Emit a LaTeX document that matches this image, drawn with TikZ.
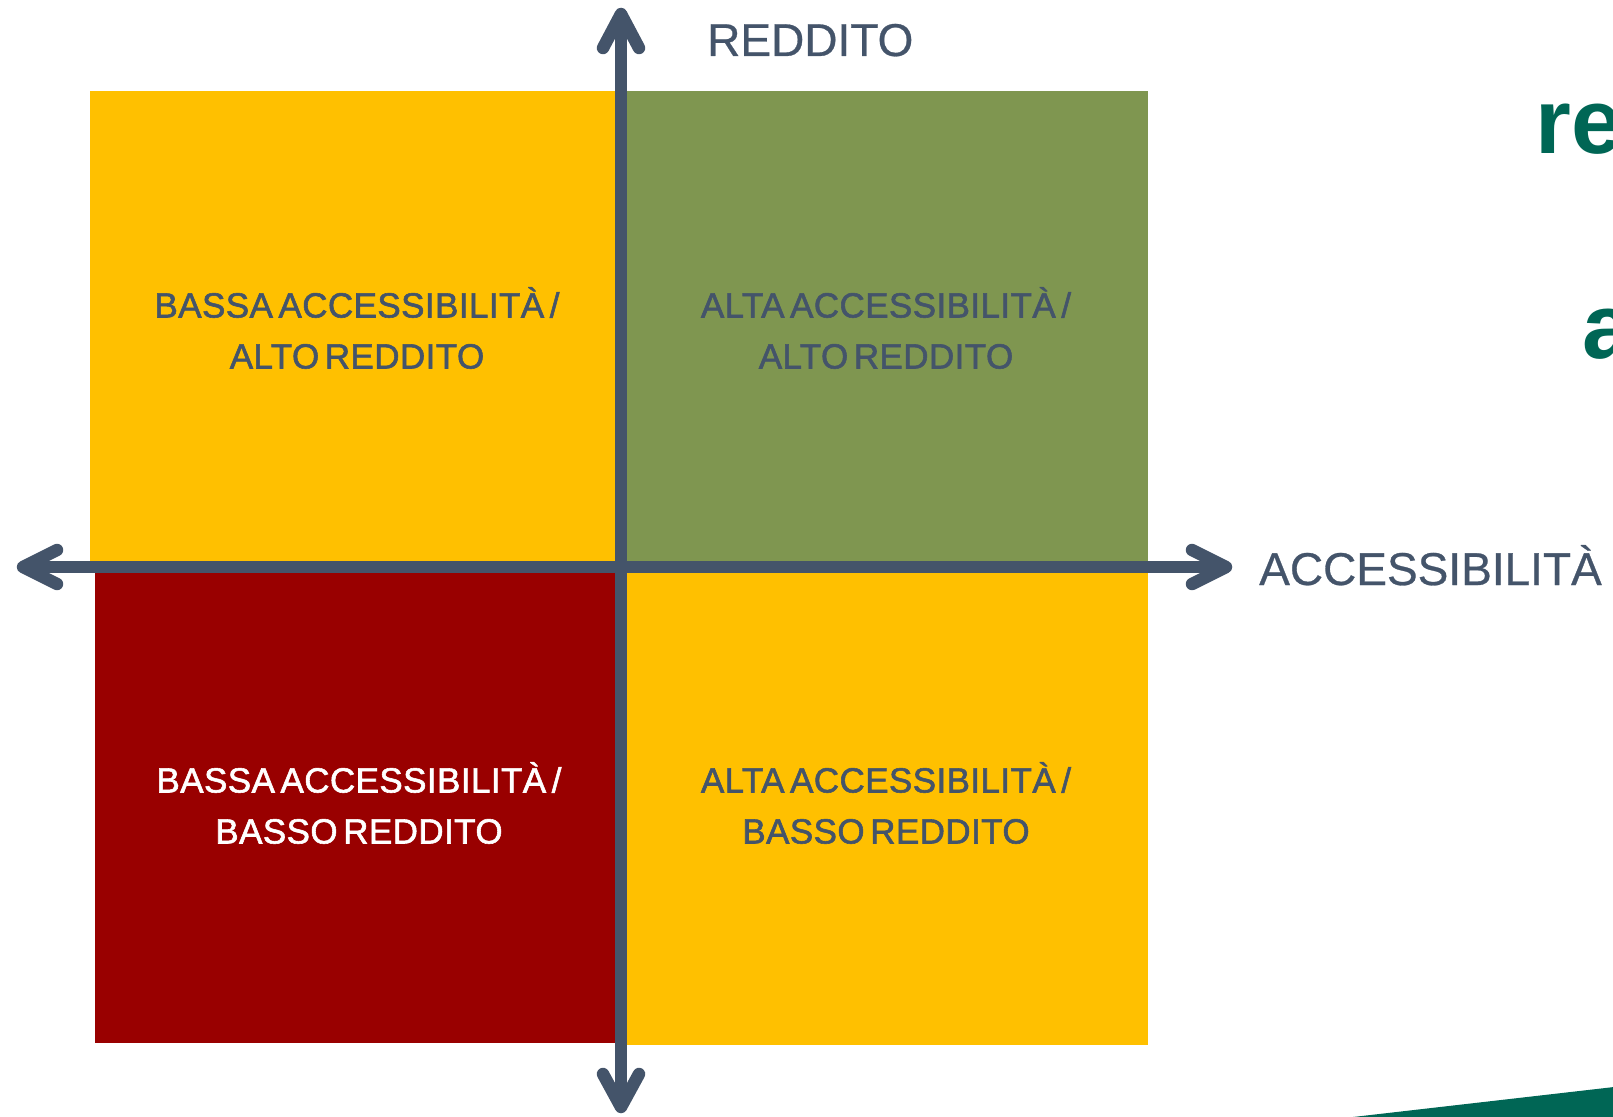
\documentclass[tikz,border=0pt]{standalone}
\usepackage{fontspec}
\setmainfont{Liberation Sans}
\newfontfamily\qfont[FakeBold=1.6, WordSpace=0.55, LetterSpace=1.2]{Liberation Sans}
\newfontfamily\axfont[FakeBold=0.6]{Liberation Sans}
\usetikzlibrary{calc}
\definecolor{axisc}{HTML}{44546A}
\definecolor{qyellow}{HTML}{FFC000}
\definecolor{qgreen}{HTML}{7F9650}
\definecolor{qred}{HTML}{990000}
\definecolor{brandteal}{HTML}{006655}
\tikzset{
  axisline/.style={draw=axisc, line width=12pt},
  chevron/.style={draw=axisc, line width=12.5pt, line cap=round, line join=round},
  qtext/.style={align=center, inner sep=0pt, text=axisc, font=\qfont\fontsize{35}{51}\selectfont},
  axlabel/.style={anchor=base west, inner sep=0pt, text=axisc, font=\axfont\fontsize{46}{50}\selectfont},
  bigteal/.style={anchor=base west, inner sep=0pt, text=brandteal, font=\fontsize{92}{100}\selectfont\bfseries}
}
\begin{document}
\begin{tikzpicture}[x=1pt,y=-1pt]
\useasboundingbox (0,0) rectangle (1613,1116);
\clip (0,0) rectangle (1613,1116);
% quadrants
\fill[qyellow] (90,91) rectangle (618,565);
\fill[qgreen] (624,91) rectangle (1148,565);
\fill[qred] (95,570) rectangle (618,1043);
\fill[qyellow] (624,570) rectangle (1148,1045);
% quadrant texts
\node[qtext] (tl) at (357,328) {BASSA ACCESSIBILITÀ /\\ALTO REDDITO};
\node[qtext] (tr) at (886,328) {ALTA ACCESSIBILITÀ /\\ALTO REDDITO};
\node[qtext, text=white] (bl) at (359,803) {BASSA ACCESSIBILITÀ /\\BASSO REDDITO};
\node[qtext] (br) at (886,803) {ALTA ACCESSIBILITÀ /\\BASSO REDDITO};
% axes
\coordinate (top) at (621,14);
\coordinate (bot) at (621,1107);
\coordinate (lft) at (23,567);
\coordinate (rgt) at (1226,567);
\draw[axisline] (top) -- (bot);
\draw[axisline] (lft) -- (rgt);
\draw[chevron] ($(top)+(-18,34)$) -- (top) -- ($(top)+(18,34)$);
\draw[chevron] ($(bot)+(-18,-33)$) -- (bot) -- ($(bot)+(18,-33)$);
\draw[chevron] ($(lft)+(34,-17)$) -- (lft) -- ($(lft)+(34,17)$);
\draw[chevron] ($(rgt)+(-34,-17)$) -- (rgt) -- ($(rgt)+(-34,17)$);
% axis labels
\node[axlabel] (ylab) at (707,56) {REDDITO};
\node[axlabel] (xlab) at (1259,585) {ACCESSIBILITÀ};
% clipped title fragments
\node[bigteal] (re) at (1535,153) {re};
\node[bigteal] (a) at (1582,358) {a};
% decorative band
\fill[brandteal] (1353,1117) -- (1614,1087) -- (1614,1117) -- cycle;
\end{tikzpicture}
\end{document}
